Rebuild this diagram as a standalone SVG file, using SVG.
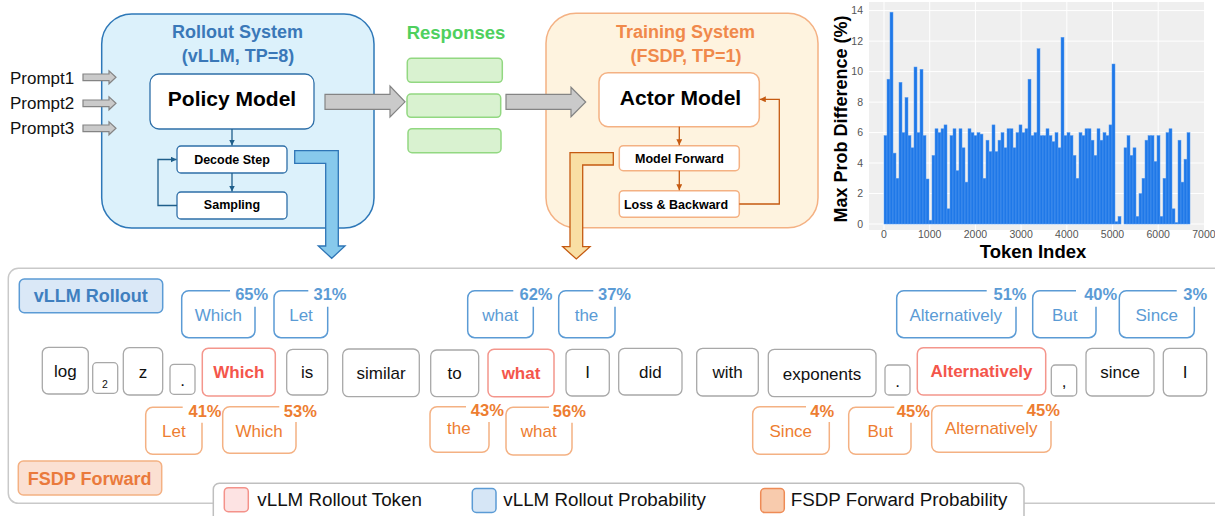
<svg xmlns="http://www.w3.org/2000/svg" width="1215" height="516" viewBox="0 0 1215 516">
  <defs>
    <style>
      text { font-family: "Liberation Sans", Arial, sans-serif; }
      .b { font-weight: bold; }
      .mid { text-anchor: middle; }
      .sys-blue { fill: #dcf1fb; stroke: #2e78b8; stroke-width: 1.5; }
      .sys-orange { fill: #fef3df; stroke: #f4b183; stroke-width: 1.5; }
      .inner-blue { fill: #ffffff; stroke: #2e6fa8; stroke-width: 1.3; }
      .inner-orange { fill: #ffffff; stroke: #f4b183; stroke-width: 1.5; }
      .resp { fill: #d9f2d0; stroke: #92d881; stroke-width: 1.5; }
      .gray-arrow { fill: #cacaca; stroke: #848484; stroke-width: 1.2; }
      .tok { fill: #ffffff; stroke: #a8a8a8; stroke-width: 1.3; }
      .tok-red { fill: #ffffff; stroke: #f4968c; stroke-width: 1.5; }
      .tok-txt { font-size: 17px; fill: #111111; text-anchor: middle; }
      .tok-red-txt { font-size: 17px; font-weight: bold; fill: #f4564b; text-anchor: middle; }
      .pb { fill: none; stroke: #5b9bd5; stroke-width: 1.5; }
      .po { fill: none; stroke: #f4b183; stroke-width: 1.5; }
      .pb-pct { font-size: 16.5px; font-weight: bold; fill: #5b9bd5; text-anchor: middle; }
      .pb-word { font-size: 17px; fill: #5b9bd5; text-anchor: middle; }
      .po-pct { font-size: 16.5px; font-weight: bold; fill: #ed7d31; text-anchor: middle; }
      .po-word { font-size: 17px; fill: #ed7d31; text-anchor: middle; }
      .conn-blue { fill: none; stroke: #1f5f8b; stroke-width: 1.3; }
      .conn-orange { fill: none; stroke: #c55a11; stroke-width: 1.3; }
      .bars rect { fill: #1f78e8; stroke: #5a9cf0; stroke-width: 0.5; }
      .grid line { stroke: #ffffff; stroke-width: 1; }
      .tick { font-size: 10.5px; fill: #555555; }
      .leg-txt { font-size: 18.8px; fill: #111111; }
    </style>
    <marker id="ah-blue" viewBox="0 0 6 6" refX="6" refY="3" markerWidth="6" markerHeight="6" markerUnits="userSpaceOnUse" orient="auto">
      <path d="M0,0 L6,3 L0,6 z" fill="#1f5f8b"/>
    </marker>
    <marker id="ah-orange" viewBox="0 0 6 6" refX="6" refY="3" markerWidth="6" markerHeight="6" markerUnits="userSpaceOnUse" orient="auto">
      <path d="M0,0 L6,3 L0,6 z" fill="#c55a11"/>
    </marker>
  </defs>

  <rect x="0" y="0" width="1215" height="516" fill="#ffffff"/>

  <!-- Rollout system -->
  <g id="rollout-system">
    <rect class="sys-blue" x="101.7" y="14" width="272.3" height="214" rx="30"/>
    <text class="b mid" x="237.5" y="38" font-size="18" fill="#3a78b8">Rollout System</text>
    <text class="b mid" x="238" y="62" font-size="18" fill="#3a78b8">(vLLM, TP=8)</text>
  </g>
  <g id="policy-model">
    <rect class="inner-blue" x="150" y="74" width="164" height="55" rx="9"/>
    <text class="b mid" x="232" y="106" font-size="21" fill="#000000">Policy Model</text>
  </g>
  <g id="decode-step">
    <rect class="inner-blue" x="177" y="146" width="110" height="27" rx="4"/>
    <text class="b mid" x="232" y="164" font-size="12.5" fill="#000000">Decode Step</text>
  </g>
  <g id="sampling">
    <rect class="inner-blue" x="177" y="192" width="110" height="27" rx="4"/>
    <text class="b mid" x="232" y="209" font-size="12.5" fill="#000000">Sampling</text>
  </g>

  <!-- Prompts -->
  <g id="prompts">
    <text x="10" y="84" font-size="17" fill="#111111">Prompt1</text>
    <text x="10" y="109" font-size="17" fill="#111111">Prompt2</text>
    <text x="10" y="134" font-size="17" fill="#111111">Prompt3</text>
  </g>

  <!-- Responses -->
  <g id="responses">
    <text class="b mid" x="456" y="39" font-size="18.5" fill="#4fd05e">Responses</text>
    <rect class="resp" x="407.3" y="58.3" width="95" height="24" rx="4"/>
    <rect class="resp" x="407" y="94" width="93.7" height="23.3" rx="4"/>
    <rect class="resp" x="408" y="128.7" width="93" height="24" rx="4"/>
  </g>

  <!-- Training system -->
  <g id="training-system">
    <rect class="sys-orange" x="546" y="13.3" width="272" height="214.4" rx="30"/>
    <text class="b mid" x="685.5" y="38" font-size="18" fill="#f0894b">Training System</text>
    <text class="b mid" x="686" y="62" font-size="18" fill="#f0894b">(FSDP, TP=1)</text>
  </g>
  <g id="actor-model">
    <rect class="inner-orange" x="599" y="72.7" width="160.3" height="54" rx="9"/>
    <text class="b mid" x="680.5" y="104.5" font-size="21" fill="#000000">Actor Model</text>
  </g>
  <g id="model-forward">
    <rect class="inner-orange" x="619.3" y="145.7" width="120" height="25" rx="4"/>
    <text class="b mid" x="679.5" y="162.5" font-size="12.5" fill="#000000">Model Forward</text>
  </g>
  <g id="loss-backward">
    <rect class="inner-orange" x="619.3" y="190.7" width="120" height="26.6" rx="4"/>
    <text class="b mid" x="676" y="208.5" font-size="12.5" fill="#000000">Loss &amp; Backward</text>
  </g>

  <!-- Connectors -->
  <g id="connectors">
    <polygon class="gray-arrow" points="83,74 109,74 109,70.8 116,77.3 109,83.8 109,80.6 83,80.6"/>
    <polygon class="gray-arrow" points="83,100 109,100 109,96.8 116,103.3 109,109.8 109,106.6 83,106.6"/>
    <polygon class="gray-arrow" points="83,125 109,125 109,121.8 116,128.3 109,134.8 109,131.6 83,131.6"/>
    <polygon class="gray-arrow" points="325,94.3 390,94.3 390,86 405,101.8 390,117 390,109.3 325,109.3"/>
    <polygon class="gray-arrow" points="506,94.3 571,94.3 571,87.3 585.7,102 571,116.7 571,109.3 506,109.3"/>

    <path class="conn-blue" d="M232,129 V145.5" marker-end="url(#ah-blue)"/>
    <path class="conn-blue" d="M232,173 V191.5" marker-end="url(#ah-blue)"/>
    <path class="conn-blue" d="M177,205.5 H158 V159.5 H176.5" marker-end="url(#ah-blue)"/>

    <path class="conn-orange" d="M679.3,126.7 V145.2" marker-end="url(#ah-orange)"/>
    <path class="conn-orange" d="M679.3,170.7 V190.2" marker-end="url(#ah-orange)"/>
    <path class="conn-orange" d="M739.3,204 H779.3 V99.3 H759.8" marker-end="url(#ah-orange)"/>

    <polygon points="294.7,150.7 338.3,150.7 338.3,246 345,246 331.7,258.3 318.3,246 325.7,246 325.7,163.3 294.7,163.3" fill="#87c9ec" stroke="#2e75b6" stroke-width="1.3"/>
    <polygon points="613.3,152.7 570,152.7 570,246.7 562.7,246.7 576.3,259 590,246.7 582.7,246.7 582.7,165 613.3,165" fill="#f9dfa4" stroke="#c55a11" stroke-width="1.3"/>
  </g>

  <!-- Probability chart -->
  <g id="chart">
    <rect x="869" y="2" width="335" height="228" fill="#efefef"/>
    <g class="grid">
      <line x1="869" y1="224" x2="1204" y2="224"/>
      <line x1="869" y1="193.5" x2="1204" y2="193.5"/>
      <line x1="869" y1="163" x2="1204" y2="163"/>
      <line x1="869" y1="132.6" x2="1204" y2="132.6"/>
      <line x1="869" y1="102.1" x2="1204" y2="102.1"/>
      <line x1="869" y1="71.6" x2="1204" y2="71.6"/>
      <line x1="869" y1="41.1" x2="1204" y2="41.1"/>
      <line x1="869" y1="10.6" x2="1204" y2="10.6"/>
      <line x1="884" y1="2" x2="884" y2="230"/>
      <line x1="929.7" y1="2" x2="929.7" y2="230"/>
      <line x1="975.4" y1="2" x2="975.4" y2="230"/>
      <line x1="1021.1" y1="2" x2="1021.1" y2="230"/>
      <line x1="1066.8" y1="2" x2="1066.8" y2="230"/>
      <line x1="1112.5" y1="2" x2="1112.5" y2="230"/>
      <line x1="1158.2" y1="2" x2="1158.2" y2="230"/>
    </g>
    <g class="bars">
      <rect x="884" y="135.6" width="3" height="88.4"/>
      <rect x="887" y="79.2" width="3" height="144.8"/>
      <rect x="890" y="12.2" width="3" height="211.8"/>
      <rect x="893" y="153.1" width="3" height="70.9"/>
      <rect x="896" y="178.3" width="3" height="45.7"/>
      <rect x="899" y="82.3" width="3" height="141.7"/>
      <rect x="902" y="132.6" width="3" height="91.4"/>
      <rect x="905" y="97.5" width="3" height="126.5"/>
      <rect x="908" y="135.6" width="3" height="88.4"/>
      <rect x="911" y="147.8" width="3" height="76.2"/>
      <rect x="914" y="67" width="3" height="157"/>
      <rect x="917" y="132.6" width="3" height="91.4"/>
      <rect x="920" y="69.3" width="3" height="154.7"/>
      <rect x="923" y="135.6" width="3" height="88.4"/>
      <rect x="926" y="179" width="3" height="45"/>
      <rect x="929" y="220.2" width="3" height="3.8"/>
      <rect x="932" y="155.4" width="3" height="68.6"/>
      <rect x="935" y="128.75" width="3" height="95.25"/>
      <rect x="938" y="132.6" width="3" height="91.4"/>
      <rect x="941" y="128.75" width="3" height="95.25"/>
      <rect x="944" y="124.9" width="3" height="99.1"/>
      <rect x="947" y="208.8" width="3" height="15.2"/>
      <rect x="950" y="135.6" width="3" height="88.4"/>
      <rect x="953" y="128.75" width="3" height="95.25"/>
      <rect x="956" y="170.7" width="3" height="53.3"/>
      <rect x="959" y="128.75" width="3" height="95.25"/>
      <rect x="962" y="147.8" width="3" height="76.2"/>
      <rect x="965" y="182.1" width="3" height="41.9"/>
      <rect x="968" y="128.75" width="3" height="95.25"/>
      <rect x="971" y="132.6" width="3" height="91.4"/>
      <rect x="974" y="135.6" width="3" height="88.4"/>
      <rect x="977" y="132.6" width="3" height="91.4"/>
      <rect x="980" y="134.1" width="3" height="89.9"/>
      <rect x="983" y="178.3" width="3" height="45.7"/>
      <rect x="986" y="140.2" width="3" height="83.8"/>
      <rect x="989" y="151.6" width="3" height="72.4"/>
      <rect x="992" y="124.9" width="3" height="99.1"/>
      <rect x="995" y="151.6" width="3" height="72.4"/>
      <rect x="998" y="140.2" width="3" height="83.8"/>
      <rect x="1001" y="132.6" width="3" height="91.4"/>
      <rect x="1004" y="147.8" width="3" height="76.2"/>
      <rect x="1007" y="128.75" width="3" height="95.25"/>
      <rect x="1010" y="128.75" width="3" height="95.25"/>
      <rect x="1013" y="147.8" width="3" height="76.2"/>
      <rect x="1016" y="132.6" width="3" height="91.4"/>
      <rect x="1019" y="124.9" width="3" height="99.1"/>
      <rect x="1022" y="132.6" width="3" height="91.4"/>
      <rect x="1025" y="128.75" width="3" height="95.25"/>
      <rect x="1028" y="79.2" width="3" height="144.8"/>
      <rect x="1031" y="135.6" width="3" height="88.4"/>
      <rect x="1034" y="132.6" width="3" height="91.4"/>
      <rect x="1037" y="48.7" width="3" height="175.3"/>
      <rect x="1040" y="135.6" width="3" height="88.4"/>
      <rect x="1043" y="135.6" width="3" height="88.4"/>
      <rect x="1046" y="128.75" width="3" height="95.25"/>
      <rect x="1049" y="135.6" width="3" height="88.4"/>
      <rect x="1052" y="141.7" width="3" height="82.3"/>
      <rect x="1055" y="132.6" width="3" height="91.4"/>
      <rect x="1058" y="147.8" width="3" height="76.2"/>
      <rect x="1061" y="37.3" width="3" height="186.7"/>
      <rect x="1064" y="135.6" width="3" height="88.4"/>
      <rect x="1067" y="132.6" width="3" height="91.4"/>
      <rect x="1070" y="135.6" width="3" height="88.4"/>
      <rect x="1073" y="155.4" width="3" height="68.6"/>
      <rect x="1076" y="178.3" width="3" height="45.7"/>
      <rect x="1079" y="132.6" width="3" height="91.4"/>
      <rect x="1082" y="135.6" width="3" height="88.4"/>
      <rect x="1085" y="128.75" width="3" height="95.25"/>
      <rect x="1088" y="128.75" width="3" height="95.25"/>
      <rect x="1091" y="140.2" width="3" height="83.8"/>
      <rect x="1094" y="155.4" width="3" height="68.6"/>
      <rect x="1097" y="128.75" width="3" height="95.25"/>
      <rect x="1100" y="140.2" width="3" height="83.8"/>
      <rect x="1103" y="132.6" width="3" height="91.4"/>
      <rect x="1106" y="135.6" width="3" height="88.4"/>
      <rect x="1109" y="124.9" width="3" height="99.1"/>
      <rect x="1112" y="64" width="3" height="160"/>
      <rect x="1115" y="221.7" width="3" height="2.3"/>
      <rect x="1118" y="216.4" width="3" height="7.6"/>
      <rect x="1124" y="147.8" width="3" height="76.2"/>
      <rect x="1127" y="135.6" width="3" height="88.4"/>
      <rect x="1130" y="155.4" width="3" height="68.6"/>
      <rect x="1133" y="147.8" width="3" height="76.2"/>
      <rect x="1136" y="216.4" width="3" height="7.6"/>
      <rect x="1139" y="193.5" width="3" height="30.5"/>
      <rect x="1142" y="178.3" width="3" height="45.7"/>
      <rect x="1145" y="140.2" width="3" height="83.8"/>
      <rect x="1148" y="135.6" width="3" height="88.4"/>
      <rect x="1151" y="135.6" width="3" height="88.4"/>
      <rect x="1154" y="161.5" width="3" height="62.5"/>
      <rect x="1157" y="135.6" width="3" height="88.4"/>
      <rect x="1160" y="216.4" width="3" height="7.6"/>
      <rect x="1163" y="178.3" width="3" height="45.7"/>
      <rect x="1166" y="132.6" width="3" height="91.4"/>
      <rect x="1169" y="128.75" width="3" height="95.25"/>
      <rect x="1172" y="208.8" width="3" height="15.2"/>
      <rect x="1175" y="222.5" width="3" height="1.5"/>
      <rect x="1178" y="140.2" width="3" height="83.8"/>
      <rect x="1181" y="182.1" width="3" height="41.9"/>
      <rect x="1184" y="159.2" width="3" height="64.8"/>
      <rect x="1187" y="132.6" width="3" height="91.4"/>
    </g>
    <g class="tick" text-anchor="end">
      <text x="863" y="227.5">0</text>
      <text x="863" y="197">2</text>
      <text x="863" y="166.5">4</text>
      <text x="863" y="136">6</text>
      <text x="863" y="105.6">8</text>
      <text x="863" y="75.1">10</text>
      <text x="863" y="44.6">12</text>
      <text x="863" y="14.1">14</text>
    </g>
    <g class="tick" text-anchor="middle">
      <text x="884" y="238">0</text>
      <text x="929.7" y="238">1000</text>
      <text x="975.4" y="238">2000</text>
      <text x="1021.1" y="238">3000</text>
      <text x="1066.8" y="238">4000</text>
      <text x="1112.5" y="238">5000</text>
      <text x="1158.2" y="238">6000</text>
      <text x="1203.9" y="238">7000</text>
    </g>
    <text class="b mid" x="1033" y="258" font-size="18.5" fill="#000000">Token Index</text>
    <text class="b mid" transform="translate(847 119) rotate(-90)" font-size="18" fill="#000000">Max Prob Difference (%)</text>
  </g>

  <!-- Token comparison panel -->
  <rect x="8.3" y="268.3" width="1230" height="235" rx="10" fill="none" stroke="#c9c9c9" stroke-width="1.5"/>

  <g id="label-vllm">
    <rect x="19.3" y="279" width="143.4" height="33.7" rx="5" fill="#dae8f7" stroke="#5b9bd5" stroke-width="1.5"/>
    <text class="b mid" x="90.8" y="302" font-size="18" fill="#3f7fbf">vLLM Rollout</text>
  </g>
  <g id="label-fsdp">
    <rect x="18.3" y="461" width="143.4" height="34" rx="5" fill="#fbe0d2" stroke="#f4b183" stroke-width="1.5"/>
    <text class="b mid" x="89.7" y="485" font-size="18" fill="#ea7a3c">FSDP Forward</text>
  </g>

  <!-- Generated tokens -->
  <g id="tokens">
    <rect class="tok" x="42.3" y="347.3" width="46" height="46.7" rx="6"/>
    <text class="tok-txt" x="65.3" y="376.5">log</text>
    <rect class="tok" x="92.7" y="362.7" width="25" height="30.6" rx="4"/>
    <text class="mid" x="105" y="388" font-size="10.5" fill="#111111">2</text>
    <rect class="tok" x="123.3" y="347.7" width="39.4" height="47.3" rx="6"/>
    <text class="tok-txt" x="143" y="378">z</text>
    <rect class="tok" x="170" y="364.3" width="25" height="30" rx="4"/>
    <text class="tok-txt" x="182.5" y="386">.</text>
    <rect class="tok-red" x="202.3" y="348.3" width="73" height="47.7" rx="6"/>
    <text class="tok-red-txt" x="238.8" y="378.3">Which</text>
    <rect class="tok" x="286.7" y="349.3" width="41" height="45.7" rx="6"/>
    <text class="tok-txt" x="307.2" y="378.3">is</text>
    <rect class="tok" x="342.7" y="349" width="76.6" height="47.7" rx="6"/>
    <text class="tok-txt" x="381" y="379">similar</text>
    <rect class="tok" x="430.7" y="350" width="48" height="46.7" rx="6"/>
    <text class="tok-txt" x="454.7" y="379">to</text>
    <rect class="tok-red" x="488" y="349.3" width="66" height="47.4" rx="6"/>
    <text class="tok-red-txt" x="521" y="379">what</text>
    <rect class="tok" x="566" y="349.3" width="43.3" height="46.7" rx="6"/>
    <text class="tok-txt" x="587.7" y="378.3">I</text>
    <rect class="tok" x="618.7" y="348.3" width="63.3" height="46.7" rx="6"/>
    <text class="tok-txt" x="650.3" y="378.3">did</text>
    <rect class="tok" x="696.7" y="348.3" width="61.6" height="47.7" rx="6"/>
    <text class="tok-txt" x="727.5" y="378.3">with</text>
    <rect class="tok" x="768.3" y="349.3" width="107.7" height="47.4" rx="6"/>
    <text class="tok-txt" x="822" y="379.5">exponents</text>
    <rect class="tok" x="885" y="365" width="25" height="30" rx="4"/>
    <text class="tok-txt" x="897.5" y="386.7">.</text>
    <rect class="tok-red" x="917.3" y="347.7" width="128.4" height="47.3" rx="6"/>
    <text class="tok-red-txt" x="981.5" y="377.3">Alternatively</text>
    <rect class="tok" x="1051.3" y="365" width="25.4" height="31" rx="4"/>
    <text class="tok-txt" x="1064" y="386.5">,</text>
    <rect class="tok" x="1086" y="348.3" width="68" height="47.7" rx="6"/>
    <text class="tok-txt" x="1120" y="378.3">since</text>
    <rect class="tok" x="1163.3" y="348.3" width="43.4" height="47.7" rx="6"/>
    <text class="tok-txt" x="1185" y="378.3">I</text>
  </g>

  <!-- vLLM rollout probabilities -->
  <g id="vllm-probs">
    <path class="pb" d="M230,290.7 H188.7 A7,7 0 0 0 181.7,297.7 V330.7 A7,7 0 0 0 188.7,337.7 H248 A7,7 0 0 0 255,330.7 V306.7"/>
    <text class="pb-pct" x="251.7" y="300">65%</text>
    <text class="pb-word" x="218.3" y="320.5">Which</text>

    <path class="pb" d="M308.3,290.7 H281 A7,7 0 0 0 274,297.7 V330.7 A7,7 0 0 0 281,337.7 H320.7 A7,7 0 0 0 327.7,330.7 V306.7"/>
    <text class="pb-pct" x="330" y="300">31%</text>
    <text class="pb-word" x="301" y="320.5">Let</text>

    <path class="pb" d="M513.3,290.7 H474.7 A7,7 0 0 0 467.7,297.7 V330.7 A7,7 0 0 0 474.7,337.7 H526.3 A7,7 0 0 0 533.3,330.7 V306.7"/>
    <text class="pb-pct" x="536" y="300">62%</text>
    <text class="pb-word" x="500.3" y="320.5">what</text>

    <path class="pb" d="M593.3,290.7 H565.7 A7,7 0 0 0 558.7,297.7 V330.7 A7,7 0 0 0 565.7,337.7 H608 A7,7 0 0 0 615,330.7 V306.7"/>
    <text class="pb-pct" x="614.5" y="300">37%</text>
    <text class="pb-word" x="586.5" y="320.5">the</text>

    <path class="pb" d="M986.7,290.7 H903.7 A7,7 0 0 0 896.7,297.7 V330.7 A7,7 0 0 0 903.7,337.7 H1009 A7,7 0 0 0 1016,330.7 V306.7"/>
    <text class="pb-pct" x="1010" y="300">51%</text>
    <text class="pb-word" x="955.8" y="320.5">Alternatively</text>

    <path class="pb" d="M1076,290.7 H1039.7 A7,7 0 0 0 1032.7,297.7 V330.7 A7,7 0 0 0 1039.7,337.7 H1089 A7,7 0 0 0 1096,330.7 V306.7"/>
    <text class="pb-pct" x="1100.7" y="300">40%</text>
    <text class="pb-word" x="1064.8" y="320.5">But</text>

    <path class="pb" d="M1176.7,290.7 H1126.3 A7,7 0 0 0 1119.3,297.7 V330.7 A7,7 0 0 0 1126.3,337.7 H1187.3 A7,7 0 0 0 1194.3,330.7 V306.7"/>
    <text class="pb-pct" x="1195.3" y="300">3%</text>
    <text class="pb-word" x="1156.8" y="320.5">Since</text>
  </g>

  <!-- FSDP forward probabilities -->
  <g id="fsdp-probs">
    <path class="po" d="M182.7,407.3 H152.7 A7,7 0 0 0 145.7,414.3 V447.3 A7,7 0 0 0 152.7,454.3 H195 A7,7 0 0 0 202,447.3 V422.7"/>
    <text class="po-pct" x="205" y="416.5">41%</text>
    <text class="po-word" x="173.8" y="437">Let</text>

    <path class="po" d="M279.3,406.7 H229.7 A7,7 0 0 0 222.7,413.7 V446.3 A7,7 0 0 0 229.7,453.3 H289 A7,7 0 0 0 296,446.3 V422"/>
    <text class="po-pct" x="300.3" y="416.5">53%</text>
    <text class="po-word" x="259.2" y="436.5">Which</text>

    <path class="po" d="M466,406.7 H437 A7,7 0 0 0 430,413.7 V445.3 A7,7 0 0 0 437,452.3 H482 A7,7 0 0 0 489,445.3 V422"/>
    <text class="po-pct" x="487.3" y="415.7">43%</text>
    <text class="po-word" x="458.8" y="434">the</text>

    <path class="po" d="M549,407.3 H513 A7,7 0 0 0 506,414.3 V448 A7,7 0 0 0 513,455 H565 A7,7 0 0 0 572,448 V422.7"/>
    <text class="po-pct" x="569.3" y="416.5">56%</text>
    <text class="po-word" x="538.8" y="437">what</text>

    <path class="po" d="M806,406.7 H759.7 A7,7 0 0 0 752.7,413.7 V447.3 A7,7 0 0 0 759.7,454.3 H822.3 A7,7 0 0 0 829.3,447.3 V422"/>
    <text class="po-pct" x="822.3" y="416.5">4%</text>
    <text class="po-word" x="790.8" y="437">Since</text>

    <path class="po" d="M894.3,407.3 H855.7 A7,7 0 0 0 848.7,414.3 V447.3 A7,7 0 0 0 855.7,454.3 H904 A7,7 0 0 0 911,447.3 V422.7"/>
    <text class="po-pct" x="913.3" y="416.5">45%</text>
    <text class="po-word" x="880.2" y="437">But</text>

    <path class="po" d="M1022.7,405.7 H938.7 A7,7 0 0 0 931.7,412.7 V445.3 A7,7 0 0 0 938.7,452.3 H1044 A7,7 0 0 0 1051,445.3 V421"/>
    <text class="po-pct" x="1043.3" y="415.5">45%</text>
    <text class="po-word" x="991.3" y="434">Alternatively</text>
  </g>

  <!-- Legend -->
  <g id="legend">
    <rect x="213.3" y="483.3" width="810.7" height="45" rx="6" fill="#ffffff" stroke="#bfbfbf" stroke-width="1.5"/>
    <rect x="224.3" y="487.7" width="24" height="24" rx="4" fill="#fde3e3" stroke="#f4928a" stroke-width="1.5"/>
    <text class="leg-txt" x="257.3" y="506">vLLM Rollout Token</text>
    <rect x="472.3" y="488.5" width="23.7" height="24" rx="4" fill="#d6e6f6" stroke="#5b9bd5" stroke-width="1.5"/>
    <text class="leg-txt" x="503.3" y="506">vLLM Rollout Probability</text>
    <rect x="760.7" y="488.5" width="23.6" height="24" rx="4" fill="#f8cbad" stroke="#ee8b56" stroke-width="1.5"/>
    <text class="leg-txt" x="790.7" y="506">FSDP Forward Probability</text>
  </g>
</svg>
